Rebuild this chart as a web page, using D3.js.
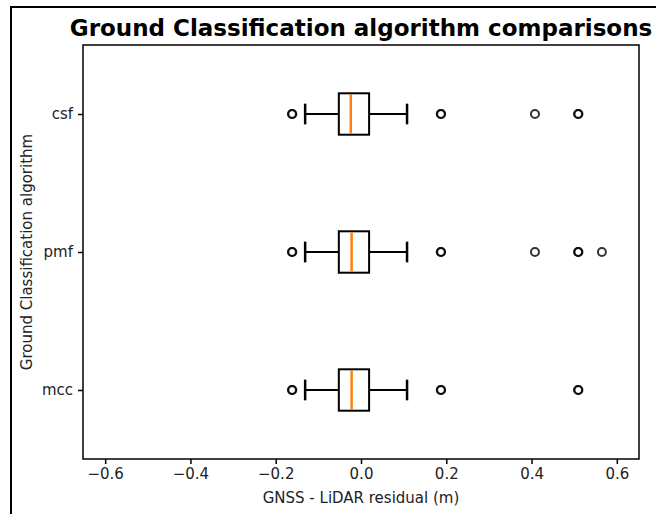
<!DOCTYPE html>
<html>
<head>
<meta charset="utf-8">
<title>Ground Classification algorithm comparisons</title>
<script src="https://d3js.org/d3.v7.min.js"></script>
<style>
  body { margin: 0; background: #fff; }
  text { font-family: "DejaVu Sans", sans-serif; }
</style>
</head>
<body>

<div id="chart"></div>

<script>
  // categories, top to bottom
  const algorithms = ["csf", "pmf", "mcc"];

  // box summaries (m)
  const whiskerLow = [-0.131, -0.131, -0.131];
  const q1 = [-0.052, -0.052, -0.052];
  const medians = [-0.024, -0.022, -0.022];
  const q3 = [0.019, 0.019, 0.019];
  const whiskerHigh = [0.108, 0.108, 0.108];

  // outliers (near-repeated values are the darker circles)
  const fliers = [
    [-0.162, -0.161, 0.187, 0.188, 0.408, 0.509, 0.510],
    [-0.162, -0.161, 0.187, 0.188, 0.408, 0.509, 0.510, 0.565],
    [-0.162, -0.161, 0.187, 0.188, 0.509, 0.510]
  ];

  const xTicks = [-0.6, -0.4, -0.2, 0.0, 0.2, 0.4, 0.6];

  const W = 656, H = 514;
  const plot = { left: 83, right: 639, top: 45, bottom: 459 };

  const svg = d3.select("#chart").append("svg")
    .attr("width", W)
    .attr("height", H);

  // outer frame of the screenshot (only left and top edges show)
  svg.append("path")
    .attr("d", `M11,${H} L11,7 L${W},7`)
    .attr("fill", "none")
    .attr("stroke", "#000")
    .attr("stroke-width", 2);

  const x = d3.scaleLinear()
    .domain([-0.652, 0.652])
    .range([plot.left, plot.right]);

  const y = d3.scalePoint()
    .domain(algorithms)
    .range([plot.top, plot.bottom])
    .padding(0.5);

  const boxH = y.step() * 0.3;
  const capH = boxH / 2;

  const fmt = d => (d < 0 ? "\u2212" : "") + Math.abs(d).toFixed(1);

  // x axis
  const xAxis = svg.append("g")
    .attr("transform", `translate(0,${plot.bottom})`)
    .call(d3.axisBottom(x).tickValues(xTicks).tickFormat(fmt).tickSize(5).tickPadding(4));
  xAxis.select(".domain").remove();
  xAxis.selectAll("text").style("font-size", "15px").attr("fill", "#222");
  xAxis.selectAll("line").attr("stroke-width", 1.5);

  // y axis
  const yAxis = svg.append("g")
    .attr("transform", `translate(${plot.left},0)`)
    .call(d3.axisLeft(y).tickSize(5).tickPadding(5));
  yAxis.select(".domain").remove();
  yAxis.selectAll("text").style("font-size", "15px").attr("fill", "#222");
  yAxis.selectAll("line").attr("stroke-width", 1.5);

  const data = algorithms.map((name, i) => ({
    name,
    lo: whiskerLow[i], q1: q1[i], med: medians[i], q3: q3[i], hi: whiskerHigh[i],
    fliers: fliers[i]
  }));

  const g = svg.selectAll(".box")
    .data(data)
    .enter().append("g")
    .attr("class", "box");

  // whiskers
  g.append("line")
    .attr("x1", d => x(d.lo)).attr("x2", d => x(d.q1))
    .attr("y1", d => y(d.name)).attr("y2", d => y(d.name))
    .attr("stroke", "#000").attr("stroke-width", 2);
  g.append("line")
    .attr("x1", d => x(d.q3)).attr("x2", d => x(d.hi))
    .attr("y1", d => y(d.name)).attr("y2", d => y(d.name))
    .attr("stroke", "#000").attr("stroke-width", 2);

  // caps
  ["lo", "hi"].forEach(k => {
    g.append("line")
      .attr("x1", d => x(d[k])).attr("x2", d => x(d[k]))
      .attr("y1", d => y(d.name) - capH / 2).attr("y2", d => y(d.name) + capH / 2)
      .attr("stroke", "#000").attr("stroke-width", 2.5);
  });

  // box
  g.append("rect")
    .attr("x", d => x(d.q1))
    .attr("width", d => x(d.q3) - x(d.q1))
    .attr("y", d => y(d.name) - boxH / 2)
    .attr("height", boxH)
    .attr("fill", "none")
    .attr("stroke", "#000")
    .attr("stroke-width", 2);

  // median
  g.append("line")
    .attr("x1", d => x(d.med)).attr("x2", d => x(d.med))
    .attr("y1", d => y(d.name) - boxH / 2 + 1).attr("y2", d => y(d.name) + boxH / 2 - 1)
    .attr("stroke", "#ff7f0e").attr("stroke-width", 2.5);

  // fliers
  g.each(function (d) {
    d3.select(this).selectAll("circle")
      .data(d.fliers)
      .enter().append("circle")
      .attr("cx", v => x(v))
      .attr("cy", y(d.name))
      .attr("r", 4)
      .attr("fill", "none")
      .attr("stroke", "#000")
      .attr("stroke-opacity", 0.8)
      .attr("stroke-width", 2);
  });

  // axes frame
  svg.append("rect")
    .attr("x", plot.left).attr("y", plot.top)
    .attr("width", plot.right - plot.left)
    .attr("height", plot.bottom - plot.top)
    .attr("fill", "none")
    .attr("stroke", "#000")
    .attr("stroke-width", 1.5);

  // title
  svg.append("text")
    .attr("x", (plot.left + plot.right) / 2)
    .attr("y", 36)
    .attr("text-anchor", "middle")
    .style("font-size", "23px")
    .style("font-weight", "bold")
    .text("Ground Classification algorithm comparisons");

  // axis labels
  svg.append("text")
    .attr("x", (plot.left + plot.right) / 2)
    .attr("y", 503)
    .attr("text-anchor", "middle")
    .style("font-size", "15px")
    .attr("fill", "#222")
    .text("GNSS - LiDAR residual (m)");

  svg.append("text")
    .attr("transform", `translate(32,${(plot.top + plot.bottom) / 2}) rotate(-90)`)
    .attr("text-anchor", "middle")
    .style("font-size", "15px")
    .attr("fill", "#222")
    .text("Ground Classification algorithm");
</script>

</body>
</html>
